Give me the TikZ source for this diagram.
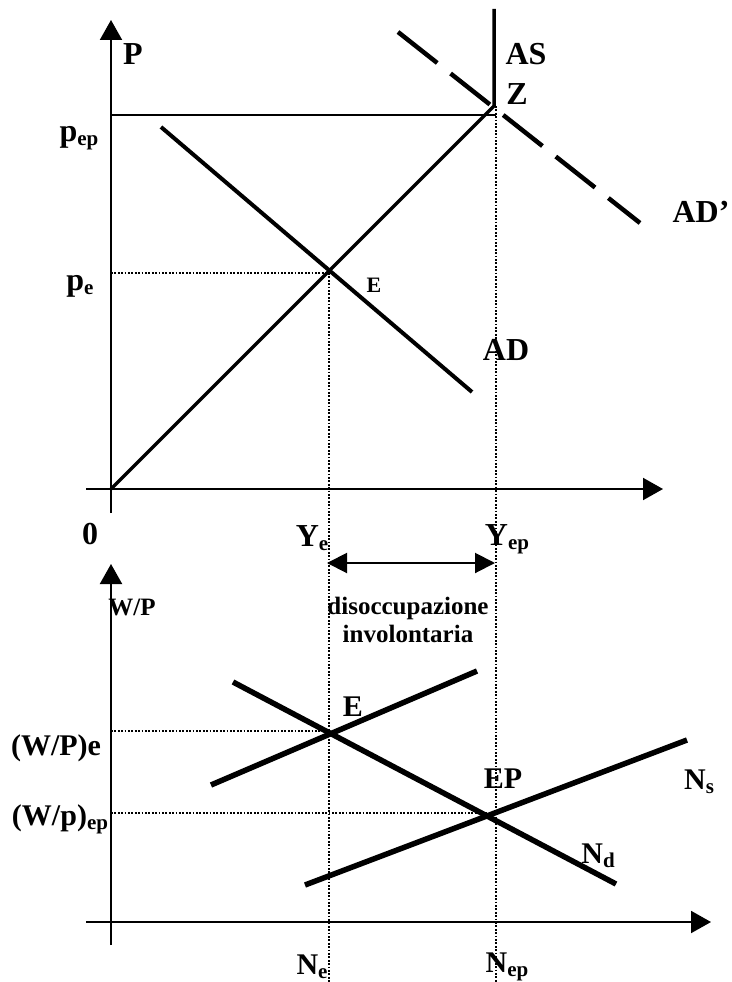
\documentclass[tikz,border=0pt]{standalone}
\usepackage{fontspec}
\setmainfont{Liberation Serif}
\usetikzlibrary{arrows.meta}
\newcommand{\sbs}[1]{\raisebox{-0.3ex}{\fontsize{21}{21}\selectfont #1}}
\begin{document}
\begin{tikzpicture}[x=1pt,y=-1pt,
  axisline/.style={line width=2pt},
  axarrow/.style={axisline,-{Triangle[length=20pt,width=22pt]}},
  curveA/.style={line width=3.5pt},
  curveB/.style={line width=4pt},
  curveC/.style={line width=5.5pt},
  dashcurve/.style={line width=4.5pt,dash pattern=on 50pt off 17pt},
  guide/.style={line width=1.8pt,dash pattern=on 1.8pt off 1.6pt},
  lab/.style={font=\fontsize{32}{32}\selectfont\bfseries,inner sep=0pt},
  labl/.style={font=\fontsize{30}{30}\selectfont\bfseries,inner sep=0pt},
  labm/.style={font=\fontsize{25}{28}\selectfont\bfseries,inner sep=0pt,align=center},
  labs/.style={font=\fontsize{22}{22}\selectfont\bfseries,inner sep=0pt}]
\useasboundingbox (0,0) rectangle (731,982);
% ---- top panel coordinates
\coordinate (O) at (111,489);
\coordinate (yb) at (111,513);
\coordinate (yt) at (111,20);
\coordinate (xl) at (86,489);
\coordinate (xr) at (663,489);
\coordinate (Zp) at (494,106);
\coordinate (AStop) at (494,9);
\coordinate (hl) at (111,115);
\coordinate (hr) at (496,115);
\coordinate (ADa) at (161,127);
\coordinate (ADb) at (472,392);
\coordinate (Ep) at (329,273);
\coordinate (pel) at (111,273);
\coordinate (vb1) at (329,982);
\coordinate (vt2) at (496,106);
\coordinate (vb2) at (496,982);
\coordinate (ADpa) at (398,32);
\coordinate (ADpb) at (640,223);
\coordinate (da) at (327,563);
\coordinate (db) at (495,563);
% ---- lower panel coordinates
\coordinate (lyb) at (111,945);
\coordinate (lyt) at (111,564);
\coordinate (lxl) at (86,922);
\coordinate (lxr) at (711,922);
\coordinate (S1a) at (211,785);
\coordinate (S1b) at (477,671);
\coordinate (S2a) at (305,885);
\coordinate (S2b) at (687,740);
\coordinate (Da) at (233,682);
\coordinate (Db) at (616,884);
\coordinate (E2) at (330,731);
\coordinate (E2l) at (111,731);
\coordinate (EPp) at (487,813);
\coordinate (EPl) at (111,813);
% ---- top panel drawing
\draw[guide] (pel) -- (Ep);
\draw[guide] (Ep) -- (vb1);
\draw[guide] (vt2) -- (vb2);
\draw[axisline] (yb) -- (O);
\draw[axarrow] (O) -- (yt);
\draw[axarrow] (xl) -- (xr);
\draw[axisline] (hl) -- (hr);
\draw[curveA,line join=miter] (O) -- (Zp) -- (AStop);
\draw[curveB] (ADa) -- (ADb);
\draw[dashcurve] (ADpa) -- (ADpb);
\draw[axisline,{Triangle[length=20pt,width=20pt]}-{Triangle[length=20pt,width=20pt]}] (da) -- (db);
% ---- lower panel drawing
\draw[guide] (E2l) -- (E2);
\draw[guide] (EPl) -- (EPp);
\draw[axarrow] (lyb) -- (lyt);
\draw[axarrow] (lxl) -- (lxr);
\draw[curveC] (S1a) -- (S1b);
\draw[curveC] (S2a) -- (S2b);
\draw[curveC] (Da) -- (Db);
% ---- labels
\node[lab] (tP) at (133,54) {P};
\node[lab] (tpep) at (79,138) {p\sbs{ep}};
\node[lab] (tpe) at (80,286) {p\sbs{e}};
\node[labs] (tE1) at (374,285) {E};
\node[lab] (tAS) at (526,54) {AS};
\node[lab] (tZ) at (517,94) {Z};
\node[lab] (tADp) at (701,212) {AD’};
\node[lab] (tAD) at (506,350) {AD};
\node[lab] (t0) at (90,534) {0};
\node[lab] (tYe) at (312,538) {Y\sbs{e}};
\node[lab] (tYep) at (507,539) {Y\sbs{ep}};
\node[labm] (tdis) at (408,620) {disoccupazione\\involontaria};
\node[labm] (tWP) at (132,607) {W/P};
\node[labl] (tE2) at (353,707) {E};
\node[labl] (tWPe) at (56,748) {(W/P)e};
\node[labl] (tWpep) at (60,819) {(W/p)\sbs{ep}};
\node[labl] (tEP) at (503,779) {EP};
\node[labl] (tNs) at (699,782) {N\sbs{s}};
\node[labl] (tNd) at (598,856) {N\sbs{d}};
\node[labl] (tNe) at (312,967) {N\sbs{e}};
\node[labl] (tNep) at (507,967) {N\sbs{ep}};
\end{tikzpicture}
\end{document}
